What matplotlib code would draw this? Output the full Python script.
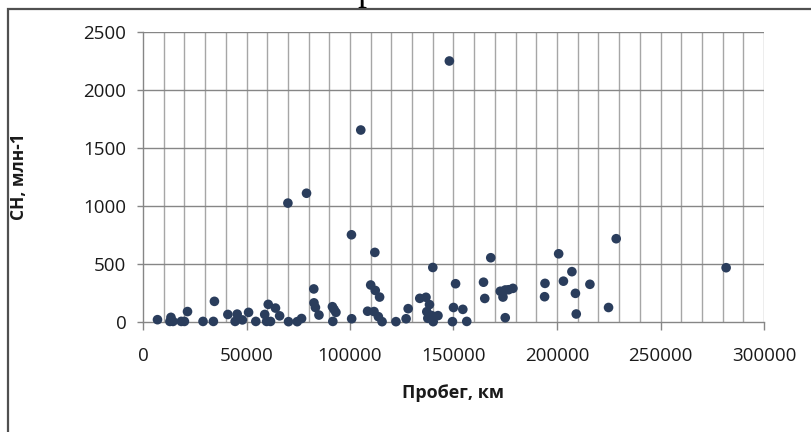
import matplotlib.pyplot as plt
import matplotlib.patches as mpatches
import numpy as np

# пробег, км
mileage = [7000, 13000, 13500, 14500, 18500, 20000, 21500, 29000, 34000, 34500,
           41000, 44500, 45500, 48000, 51000, 54500, 58800, 59700, 60500, 61600,
           64000, 66000, 70000, 70300, 74500, 76600, 79000, 82500, 82600, 83300,
           85000, 91500, 92300, 93200, 91700, 100800, 100700, 105200, 108500, 110000,
           111600, 112000, 112200, 114300, 113700, 115500, 122200, 127100, 128100, 133700,
           136700, 138400, 137100, 137600, 139500, 140200, 142500, 140000, 148000, 149500,
           150000, 151000, 154500, 156400, 164500, 165100, 168000, 172600, 173900, 175000,
           176600, 178700, 175000, 194000, 194200, 200800, 203100, 207200, 208900, 209300,
           215900, 224900, 228600, 281700]
# СН, млн-1
ch = [20, 5, 40, 5, 5, 5, 90, 5, 5, 178,
      65, 5, 68, 18, 83, 5, 65, 5, 152, 5,
      120, 53, 1025, 3, 3, 30, 1110, 285, 165, 125,
      60, 132, 108, 83, 5, 28, 752, 1655, 93, 319,
      90, 600, 272, 215, 46, 3, 3, 28, 115, 204,
      213, 150, 89, 32, 55, 3, 55, 470, 2250, 3,
      125, 330, 109, 5, 343, 203, 554, 265, 215, 276,
      278, 290, 37, 218, 333, 588, 352, 434, 247, 69,
      325, 125, 718, 468]

x_ticks = [0, 50000, 100000, 150000, 200000, 250000, 300000]
y_ticks = [0, 500, 1000, 1500, 2000, 2500]

plt.rcParams['font.family'] = ['Open Sans', 'DejaVu Sans']

fig = plt.figure(figsize=(8.11, 4.32), dpi=100)
ax = fig.add_axes([143 / 811, 110 / 432, 621 / 811, 290 / 432])

ax.set_xlim(0, 300000)
ax.set_ylim(0, 2500)

# сетка: вертикальные линии через 10000 км, горизонтальные через 500
for xv in np.arange(10000, 300001, 10000):
    ax.axvline(xv, color='#a6a6a6', lw=1.0, zorder=1)
for yv in y_ticks[1:]:
    ax.axhline(yv, color='#868686', lw=1.0, zorder=1)

ax.scatter(mileage, ch, s=48, color='#2a3d5c', edgecolors='none', zorder=3, clip_on=False)

ax.set_xticks(x_ticks)
ax.set_xticklabels([str(v) for v in x_ticks])
ax.set_yticks(y_ticks)
ax.set_yticklabels([str(v) for v in y_ticks])
ax.tick_params(axis='x', length=6, width=1, color='#868686', pad=12, labelsize=13.5, labelcolor='#1a1a1a')
ax.tick_params(axis='y', length=4, width=1, color='#868686', pad=8, labelsize=13.5, labelcolor='#1a1a1a')

for side in ['top', 'right']:
    ax.spines[side].set_visible(False)
for side in ['left', 'bottom']:
    ax.spines[side].set_color('#868686')
    ax.spines[side].set_linewidth(1.0)

ax.set_xlabel('Пробег, км', fontsize=13, fontweight='bold', labelpad=14, color='#1a1a1a')
ax.set_ylabel('СН, млн-1', fontsize=12.5, fontweight='bold', color='#1a1a1a')
ax.yaxis.set_label_coords(-(143 - 28) / 621, 0.5)

# рамка области диаграммы
frame = mpatches.Rectangle((8 / 811, -0.1), 1.2, (432 - 9) / 432 + 0.1,
                           transform=fig.transFigure, fill=False,
                           edgecolor='#505050', lw=1.6, clip_on=False)
fig.patches.append(frame)

# хвост буквы заголовка над рамкой
fig.text(357 / 811, 1.0, 'р', family='Liberation Serif', fontsize=26,
         ha='left', va='baseline', color='black')

fig.savefig('out.png', dpi=100, facecolor='white')
